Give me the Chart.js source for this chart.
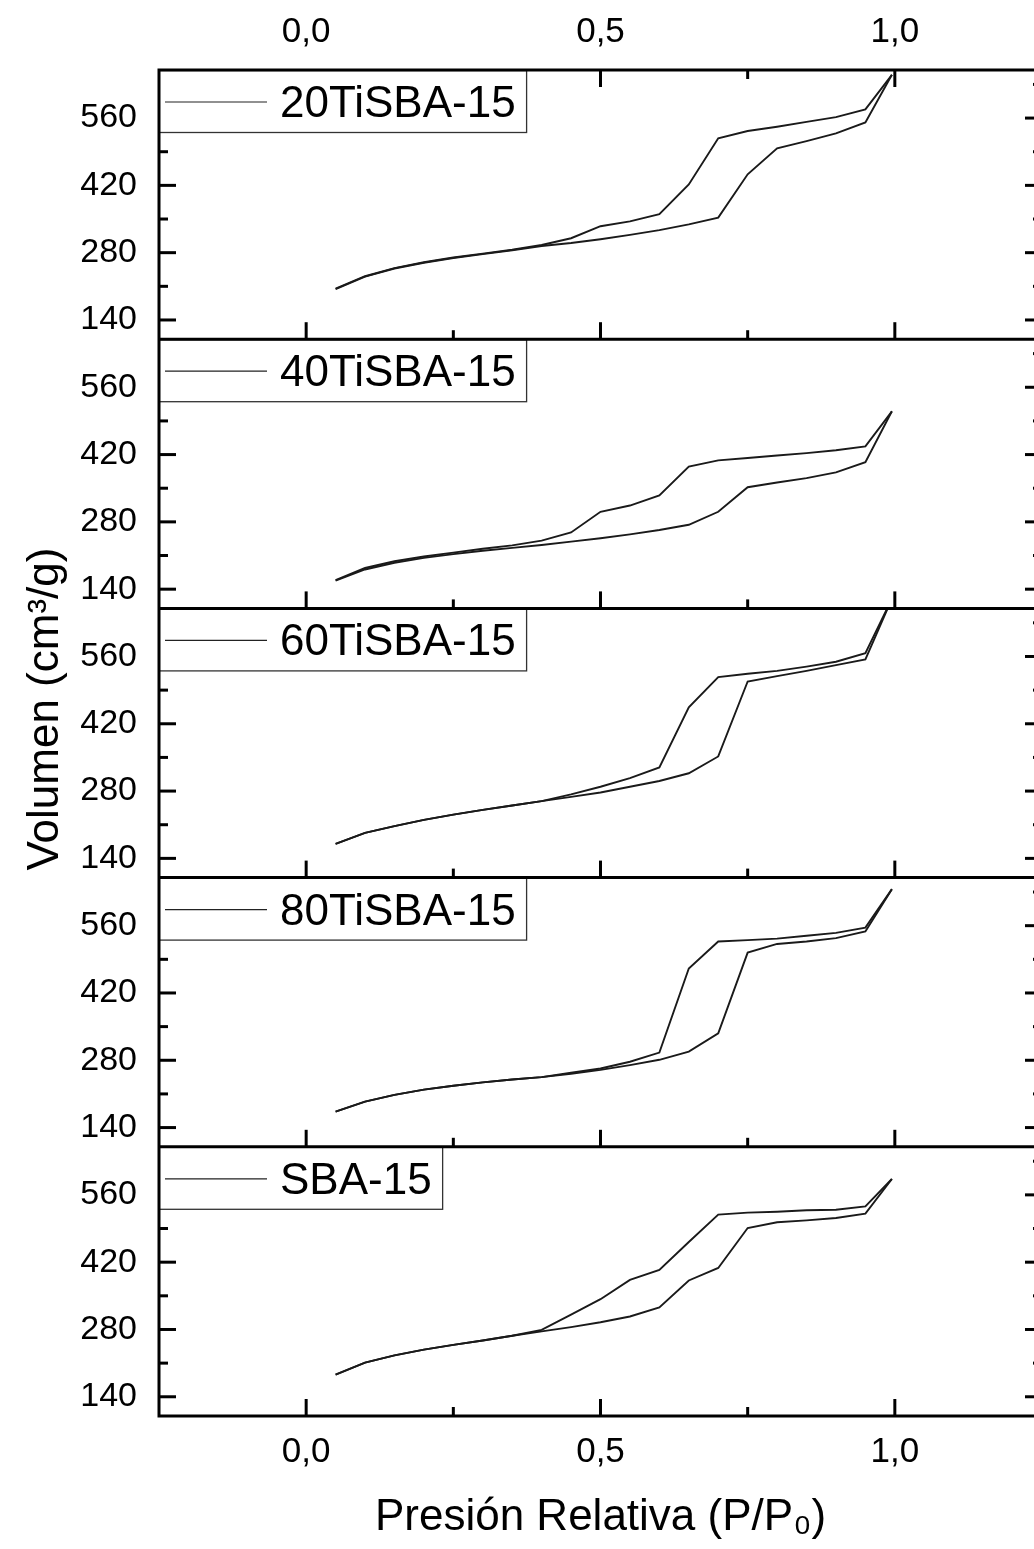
<!DOCTYPE html>
<html>
<head>
<meta charset="utf-8">
<script src="https://cdn.jsdelivr.net/npm/chart.js@4"></script>
<style>
html,body{margin:0;padding:0;background:#fff;overflow:hidden}
canvas{display:block}
</style>
</head>
<body>
<canvas id="c" width="1042" height="1549"></canvas>
<script>
// ---- data ----
const pressures = [0.05,0.10,0.15,0.20,0.25,0.30,0.35,0.40,0.45,0.50,0.55,0.60,0.65,0.70,0.75,0.80,0.85,0.90,0.95,0.995];
const samples = ['20TiSBA-15','40TiSBA-15','60TiSBA-15','80TiSBA-15','SBA-15'];

const ads20  = [204,230,247,259,269,277,285,294,300,308,317,327,339,353,443,497,512,528,551,650];
const des20  = [205,231,248,260,270,278,286,296,310,335,345,360,422,518,533,542,552,562,578,650];

const ads40  = [158,181,195,205,213,220,226,232,239,246,254,263,274,301,352,362,371,383,404,510];
const des40  = [159,184,198,208,216,224,231,241,258,301,314,335,395,408,413,418,423,429,437,510];

const ads60  = [170,193,207,220,231,241,250,259,268,277,289,301,317,352,508,519,530,542,554,680];
const des60  = [170,193,207,220,231,241,250,259,273,289,307,329,454,517,524,530,539,549,567,680];

const ads80  = [173,194,208,219,227,234,240,245,252,260,270,281,298,336,504,522,527,534,548,636];
const des80  = [173,194,208,219,227,234,240,245,254,263,277,296,471,527,530,533,539,545,556,636];

const adsSBA = [186,211,226,238,248,257,267,276,285,295,307,326,382,408,491,503,507,512,521,593];
const desSBA = [186,211,226,238,248,257,267,279,311,343,383,404,462,519,523,525,528,529,536,593];

const adsorption = [ads20, ads40, ads60, ads80, adsSBA];
const desorption = [des20, des40, des60, des80, desSBA];

const xTicks = [0, 0.25, 0.5, 0.75, 1.0];
const yTicks = [140,210,280,350,420,490,560,630];
const X_MIN = -0.25, X_MAX = 1.25;
const Y_MIN = 100, Y_MAX = 660;
const xTitle = 'Presión Relativa (P/P₀)';
const yTitle = 'Volumen (cm³/g)';

// ---- style ----
const FONT = '"Liberation Sans", Arial, Helvetica, sans-serif';
const LINE_COLOR = '#1a1a1a';
const MAJOR = 17, MINOR = 9;

const datasets = [];
samples.forEach((name, i) => {
  datasets.push({
    label: name + ' adsorción',
    data: pressures.map((p, k) => ({x: p, y: adsorption[i][k]})),
    xAxisID: 'x', yAxisID: 'y' + i,
    borderColor: LINE_COLOR, borderWidth: 1.9, pointRadius: 0, fill: false, tension: 0
  });
  datasets.push({
    label: name + ' desorción',
    data: pressures.map((p, k) => ({x: p, y: desorption[i][k]})),
    xAxisID: 'x', yAxisID: 'y' + i,
    borderColor: LINE_COLOR, borderWidth: 1.9, pointRadius: 0, fill: false, tension: 0
  });
});

const xLabel = v => (Math.abs(v % 0.5) < 1e-9) ? v.toFixed(1).replace('.', ',') : '';
const yLabel = v => (v % 140 === 0) ? String(v) : '';

const scales = {
  x: {
    type: 'linear', position: 'bottom', min: X_MIN, max: X_MAX,
    afterBuildTicks: s => { s.ticks = xTicks.map(v => ({value: v})); },
    afterFit: s => { s.height = 133; },
    grid: {display: false, drawTicks: false}, border: {display: false},
    ticks: {autoSkip: false, maxRotation: 0, padding: 15, color: '#000',
            font: {family: FONT, size: 35}, callback: xLabel},
    title: {display: true, text: xTitle, color: '#000',
            font: {family: FONT, size: 44}, padding: {top: 0, bottom: 5}}
  },
  x2: {
    type: 'linear', position: 'top', min: X_MIN, max: X_MAX,
    afterBuildTicks: s => { s.ticks = xTicks.map(v => ({value: v})); },
    afterFit: s => { s.height = 70; },
    grid: {display: false, drawTicks: false}, border: {display: false},
    ticks: {autoSkip: false, maxRotation: 0, padding: 17, color: '#000',
            font: {family: FONT, size: 35}, callback: xLabel}
  }
};
// stacked panels: defined last-to-first so that the first sample sits on top
for (let i = samples.length - 1; i >= 0; i--) {
  scales['y' + i] = {
    type: 'linear', position: 'left', stack: 'panels', stackWeight: 1,
    min: Y_MIN, max: Y_MAX,
    afterBuildTicks: s => { s.ticks = yTicks.map(v => ({value: v})); },
    afterFit: s => { s.width = 159; },
    grid: {display: false, drawTicks: false}, border: {display: false},
    ticks: {autoSkip: false, padding: 22, color: '#000',
            font: {family: FONT, size: 34}, callback: yLabel}
  };
}

const panelPlugin = {
  id: 'panels',
  beforeDatasetDraw(chart, args) {
    const ys = chart.scales[args.meta.yAxisID];
    const a = chart.chartArea, ctx = chart.ctx;
    ctx.save();
    ctx.beginPath();
    ctx.rect(a.left, ys.top, a.right - a.left, ys.bottom - ys.top);
    ctx.clip();
  },
  afterDatasetDraw(chart) { chart.ctx.restore(); },
  afterDraw(chart) {
    const ctx = chart.ctx, a = chart.chartArea, xs = chart.scales.x;
    const seg = (x1, y1, x2, y2) => { ctx.beginPath(); ctx.moveTo(x1, y1); ctx.lineTo(x2, y2); ctx.stroke(); };
    const panelScales = samples.map((_, i) => chart.scales['y' + i]);
    const topMost = Math.min(...panelScales.map(s => s.top));
    ctx.save();
    ctx.strokeStyle = '#000';
    ctx.lineWidth = 3;
    ctx.lineCap = 'butt';
    // inward ticks
    panelScales.forEach(ys => {
      ys.ticks.forEach(t => {
        const py = ys.getPixelForValue(t.value);
        const len = t.value % 140 === 0 ? MAJOR : MINOR;
        seg(a.left, py, a.left + len, py);
        seg(a.right, py, a.right - len, py);
      });
      xs.ticks.forEach(t => {
        const px = xs.getPixelForValue(t.value);
        const len = Math.abs(t.value % 0.5) < 1e-9 ? MAJOR : MINOR;
        seg(px, ys.bottom, px, ys.bottom - len);
        if (ys.top === topMost) seg(px, ys.top, px, ys.top + len);
      });
    });
    // legend boxes
    ctx.font = '44px ' + FONT;
    samples.forEach((name, i) => {
      const top = panelScales[i].top;
      const tw = ctx.measureText(name).width;
      const bx = a.left, bw = 280 + tw + 11 - a.left, bh = 62;
      ctx.fillStyle = '#fff';
      ctx.fillRect(bx, top, bw, bh);
      ctx.lineWidth = 1.3;
      ctx.strokeStyle = '#333';
      ctx.strokeRect(bx, top + 0.5, bw, bh);
      ctx.lineWidth = 1.2;
      ctx.strokeStyle = '#222';
      seg(165, top + 32, 267, top + 32);
      ctx.fillStyle = '#000';
      ctx.textAlign = 'left';
      ctx.textBaseline = 'alphabetic';
      ctx.fillText(name, 280, top + 47);
    });
    // frame and panel separators
    ctx.strokeStyle = '#000';
    ctx.lineWidth = 3;
    ctx.strokeRect(a.left, a.top, a.right - a.left, a.bottom - a.top);
    panelScales.forEach(ys => {
      if (ys.top > a.top + 1) seg(a.left, ys.top, a.right, ys.top);
    });
    // y title
    ctx.translate(58, 709);
    ctx.rotate(-Math.PI / 2);
    ctx.fillStyle = '#000';
    ctx.font = '44px ' + FONT;
    ctx.textAlign = 'center';
    ctx.textBaseline = 'alphabetic';
    ctx.fillText(yTitle, 0, 0);
    ctx.restore();
  }
};

new Chart(document.getElementById('c'), {
  type: 'line',
  data: {datasets},
  options: {
    responsive: false,
    devicePixelRatio: 1,
    animation: false,
    events: [],
    layout: {padding: 0},
    plugins: {legend: {display: false}, tooltip: {enabled: false}},
    scales
  },
  plugins: [panelPlugin]
});
</script>
</body>
</html>
